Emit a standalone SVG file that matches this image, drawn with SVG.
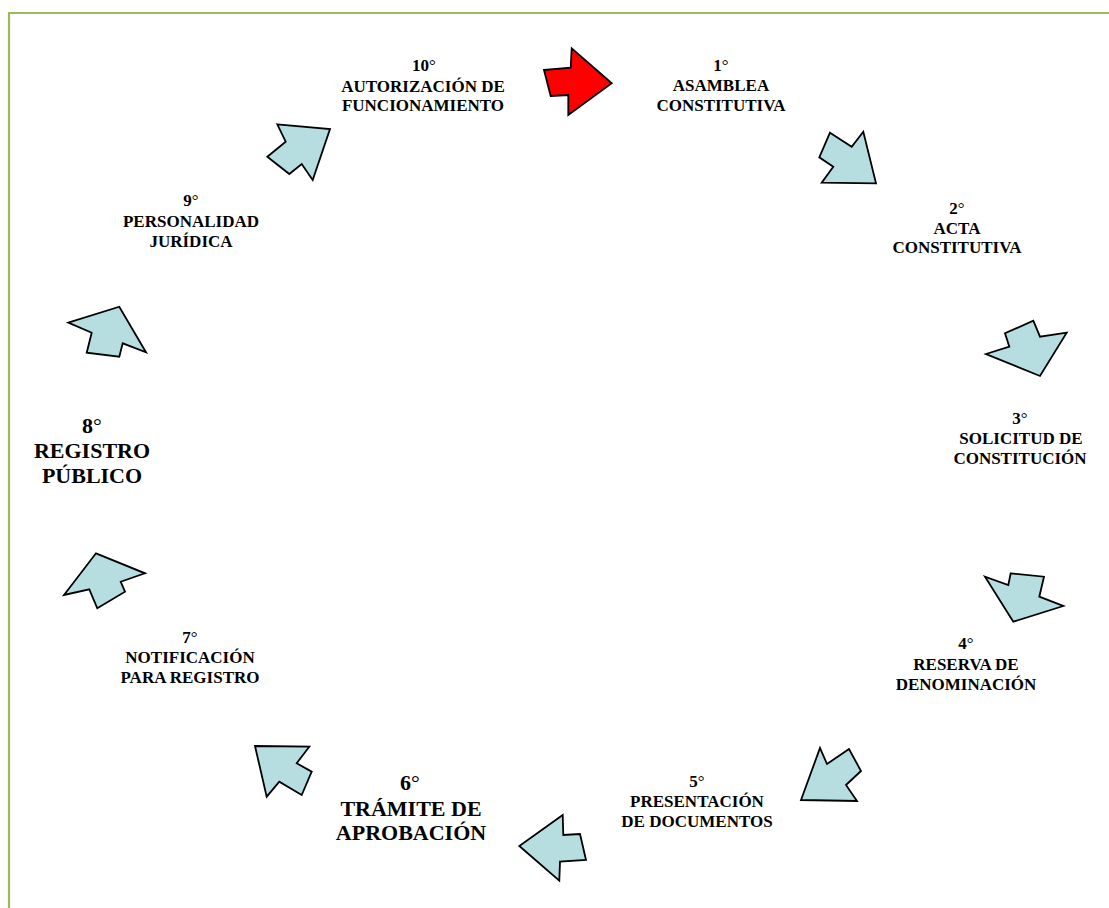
<svg xmlns="http://www.w3.org/2000/svg" width="1109" height="908" viewBox="0 0 1109 908">
  <style>
    .frame { fill: none; stroke: #9BBB59; stroke-width: 2.2; }
    .arrow { fill: #B6DEE1; stroke: #000; stroke-width: 1.8; stroke-linejoin: miter; }
    .arrow.start { fill: #FF0000; }
    .lbl { font-family: "Liberation Serif", "Times New Roman", serif; font-weight: bold; font-size: 17px; fill: #000; text-anchor: middle; }
    .lbl.big { font-size: 22px; }
    .deg { font-weight: normal; }
  </style>

  <rect width="1109" height="908" fill="#fff"/>
  <!-- page frame: top and left rules -->
  <path class="frame" d="M9,908 V13 H1109"/>

  <!-- step arrows, running clockwise -->
  <g id="connectors">
    <polygon class="arrow start" points="544,70 570.7,67.7 571.7,48.3 611.7,83.3 568.3,115 568.3,95 550.7,96"/>
    <polygon class="arrow" points="830,132.7 851.7,146.7 863.3,131.7 876,183.3 821.7,182.7 833.3,166.7 819.3,157.3"/>
    <polygon class="arrow" points="1033.3,320.7 1040,336.7 1066.7,332.7 1040,376 986,354 1009.3,346.7 1005,333.3"/>
    <polygon class="arrow" points="1010.7,573.3 1044,576.7 1039.3,596.7 1063.3,606 1013.3,621.7 985,576.7 1008.3,585"/>
    <polygon class="arrow" points="849,749 827,764 820,748 801,800 857,801 846,785 861,771"/>
    <polygon class="arrow" points="562.7,815 563.3,835 580,834 586,860 560,861.7 559.3,880.7 519.3,846"/>
    <polygon class="arrow" points="255,746 309.3,746.7 296.7,763.3 311.7,771.7 301.7,795 279.3,781.7 266.7,796.7"/>
    <polygon class="arrow" points="96,553.3 145,573.3 120.7,581.7 125,591.7 97.3,608.3 89.3,589.3 64,595"/>
    <polygon class="arrow" points="68.3,322.7 119.3,306.7 146,352.3 122.7,343.3 119.3,356.7 86.7,352.7 91.7,332.7"/>
    <polygon class="arrow" points="277.3,124.3 330,129 312.7,180 301.7,164 289.3,174 267.3,156.7 285.7,141.7"/>
  </g>

  <g id="step1">
    <text class="lbl" x="721" y="71">1<tspan class="deg">°</tspan></text>
    <text class="lbl" x="721" y="91">ASAMBLEA</text>
    <text class="lbl" x="721" y="111">CONSTITUTIVA</text>
  </g>
  <g id="step2">
    <text class="lbl" x="957" y="214">2<tspan class="deg">°</tspan></text>
    <text class="lbl" x="957" y="234">ACTA</text>
    <text class="lbl" x="957" y="253">CONSTITUTIVA</text>
  </g>
  <g id="step3">
    <text class="lbl" x="1020" y="424">3<tspan class="deg">°</tspan></text>
    <text class="lbl" x="1021" y="444">SOLICITUD DE</text>
    <text class="lbl" x="1020" y="464">CONSTITUCIÓN</text>
  </g>
  <g id="step4">
    <text class="lbl" x="966" y="649">4<tspan class="deg">°</tspan></text>
    <text class="lbl" x="966" y="670">RESERVA DE</text>
    <text class="lbl" x="966" y="690">DENOMINACIÓN</text>
  </g>
  <g id="step5">
    <text class="lbl" x="697" y="787">5<tspan class="deg">°</tspan></text>
    <text class="lbl" x="697" y="807">PRESENTACIÓN</text>
    <text class="lbl" x="697" y="827">DE DOCUMENTOS</text>
  </g>
  <g id="step6">
    <text class="lbl big" x="410" y="790">6<tspan class="deg">°</tspan></text>
    <text class="lbl big" x="411" y="816">TRÁMITE DE</text>
    <text class="lbl big" x="411" y="840">APROBACIÓN</text>
  </g>
  <g id="step7">
    <text class="lbl" x="190" y="643">7<tspan class="deg">°</tspan></text>
    <text class="lbl" x="190" y="663">NOTIFICACIÓN</text>
    <text class="lbl" x="190" y="683">PARA REGISTRO</text>
  </g>
  <g id="step8">
    <text class="lbl big" x="92" y="433">8<tspan class="deg">°</tspan></text>
    <text class="lbl big" x="92" y="458">REGISTRO</text>
    <text class="lbl big" x="92" y="483">PÚBLICO</text>
  </g>
  <g id="step9">
    <text class="lbl" x="191" y="206">9<tspan class="deg">°</tspan></text>
    <text class="lbl" x="191" y="227">PERSONALIDAD</text>
    <text class="lbl" x="191" y="247">JURÍDICA</text>
  </g>
  <g id="step10">
    <text class="lbl" x="424" y="71">10<tspan class="deg">°</tspan></text>
    <text class="lbl" x="423" y="92">AUTORIZACIÓN DE</text>
    <text class="lbl" x="423" y="111">FUNCIONAMIENTO</text>
  </g>
</svg>
